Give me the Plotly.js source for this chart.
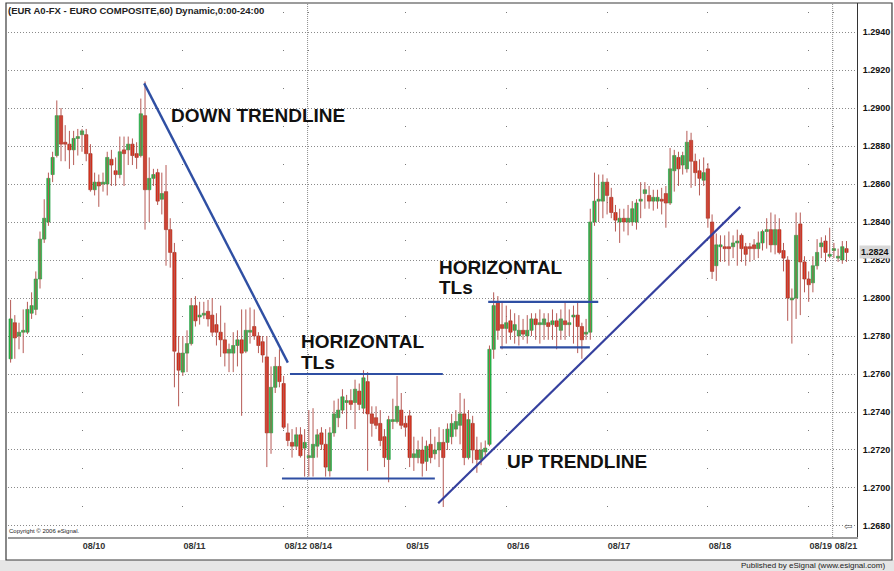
<!DOCTYPE html>
<html><head><meta charset="utf-8">
<script src="https://cdn.plot.ly/plotly-3.0.1.min.js"></script>
<style>html,body{margin:0;padding:0;background:#fff}#chart{width:894px;height:571px}</style>
</head><body><div id="chart"></div>
<script>
const chartTitle = '(EUR A0-FX - EURO COMPOSITE,60) Dynamic,0:00-24:00';
const dayLabels = ['08/10','08/11','08/12','08/14','08/15','08/16','08/17','08/18','08/19','08/21'];
const dayStartIdx = [17,41,65,71,94,118,142,166,190,196];
const weekStartLabels = ['08/14','08/21'];

const openPx = [
1.2768,1.2787,1.2780,1.2782,1.2782,1.2792,1.2794,1.2810,1.2831,1.2840,
1.2865,1.2875,1.2896,1.2882,1.2881,1.2878,1.2884,1.2886,1.2886,1.2876,
1.2857,1.2861,1.2860,1.2860,1.2873,1.2867,1.2865,1.2878,1.2878,1.2881,
1.2876,1.2875,1.2896,1.2857,1.2863,1.2866,1.2852,1.2856,1.2836,1.2824,
1.2771,1.2761,1.2771,1.2776,1.2796,1.2790,1.2791,1.2793,1.2791,1.2786,
1.2782,1.2778,1.2771,1.2771,1.2775,1.2778,1.2772,1.2782,1.2785,1.2780,
1.2777,1.2769,1.2729,1.2753,1.2764,1.2755,1.2729,1.2724,1.2722,1.2728,
1.2721,1.2716,1.2716,1.2722,1.2729,1.2723,1.2709,1.2729,1.2737,1.2741,
1.2745,1.2746,1.2745,1.2751,1.2742,1.2756,1.2739,1.2737,1.2734,1.2727,
1.2715,1.2735,1.2735,1.2741,1.2734,1.2738,1.2716,1.2716,1.2720,1.2714,
1.2723,1.2718,1.2720,1.2724,1.2724,1.2727,1.2731,1.2733,1.2739,1.2716,
1.2734,1.2720,1.2715,1.2719,1.2723,1.2773,1.2798,1.2786,1.2784,1.2788,
1.2783,1.2780,1.2783,1.2780,1.2783,1.2789,1.2786,1.2786,1.2787,1.2786,
1.2788,1.2783,1.2788,1.2786,1.2790,1.2791,1.2785,1.2781,1.2782,1.2840,
1.2851,1.2851,1.2861,1.2853,1.2845,1.2840,1.2842,1.2840,1.2840,1.2840,
1.2851,1.2855,1.2854,1.2851,1.2851,1.2852,1.2855,1.2850,1.2867,1.2874,
1.2870,1.2868,1.2883,1.2872,1.2867,1.2862,1.2868,1.2840,1.2817,1.2827,
1.2827,1.2827,1.2827,1.2829,1.2833,1.2827,1.2827,1.2828,1.2826,1.2829,
1.2835,1.2836,1.2828,1.2836,1.2825,1.2820,1.2799,1.2800,1.2839,1.2819,
1.2810,1.2808,1.2817,1.2827,1.2830,1.2822,1.2825,1.2821,1.2820,1.2826];
const highPx = [
1.2799,1.2791,1.2787,1.2794,1.2798,1.2803,1.2814,1.2835,1.2852,1.2866,
1.2877,1.2904,1.2900,1.2891,1.2888,1.2888,1.2889,1.2889,1.2889,1.2881,
1.2866,1.2865,1.2866,1.2877,1.2878,1.2874,1.2885,1.2885,1.2885,1.2884,
1.2882,1.2905,1.2914,1.2874,1.2868,1.2868,1.2866,1.2870,1.2842,1.2829,
1.2780,1.2780,1.2783,1.2800,1.2801,1.2798,1.2798,1.2799,1.2800,1.2792,
1.2796,1.2787,1.2776,1.2782,1.2783,1.2794,1.2794,1.2795,1.2794,1.2782,
1.2780,1.2780,1.2764,1.2769,1.2773,1.2759,1.2734,1.2731,1.2732,1.2732,
1.2731,1.2741,1.2742,1.2731,1.2732,1.2731,1.2732,1.2746,1.2747,1.2752,
1.2749,1.2752,1.2757,1.2755,1.2762,1.2761,1.2743,1.2743,1.2741,1.2731,
1.2738,1.2747,1.2759,1.2750,1.2738,1.2741,1.2727,1.2725,1.2727,1.2725,
1.2731,1.2727,1.2732,1.2731,1.2734,1.2739,1.2741,1.2750,1.2747,1.2741,
1.2738,1.2727,1.2724,1.2725,1.2775,1.2803,1.2801,1.2798,1.2796,1.2794,
1.2792,1.2791,1.2789,1.2791,1.2792,1.2792,1.2794,1.2792,1.2792,1.2794,
1.2792,1.2794,1.2798,1.2794,1.2796,1.2798,1.2787,1.2789,1.2847,1.2866,
1.2865,1.2865,1.2863,1.2858,1.2849,1.2847,1.2847,1.2849,1.2851,1.2852,
1.2861,1.2861,1.2859,1.2857,1.2857,1.2858,1.2859,1.2879,1.2878,1.2877,
1.2877,1.2888,1.2887,1.2876,1.2873,1.2874,1.2871,1.2844,1.2834,1.2833,
1.2833,1.2835,1.2833,1.2836,1.2834,1.2829,1.2829,1.2831,1.2835,1.2836,
1.2842,1.2845,1.2844,1.2842,1.2829,1.2822,1.2805,1.2845,1.2845,1.2822,
1.2814,1.2822,1.2831,1.2832,1.2833,1.2837,1.2829,1.2826,1.2830,1.2830];
const lowPx = [
1.2766,1.2768,1.2773,1.2771,1.2781,1.2789,1.2791,1.2805,1.2829,1.2838,
1.2861,1.2874,1.2872,1.2872,1.2868,1.2870,1.2875,1.2877,1.2872,1.2856,
1.2854,1.2848,1.2856,1.2854,1.2859,1.2859,1.2863,1.2859,1.2870,1.2870,
1.2868,1.2874,1.2836,1.2840,1.2859,1.2849,1.2844,1.2817,1.2816,1.2753,
1.2743,1.2759,1.2761,1.2775,1.2785,1.2786,1.2789,1.2785,1.2780,1.2775,
1.2769,1.2764,1.2761,1.2761,1.2764,1.2738,1.2771,1.2776,1.2778,1.2771,
1.2766,1.2711,1.2718,1.2750,1.2753,1.2731,1.2722,1.2716,1.2720,1.2716,
1.2706,1.2706,1.2706,1.2716,1.2720,1.2706,1.2706,1.2727,1.2732,1.2739,
1.2731,1.2741,1.2731,1.2741,1.2739,1.2709,1.2727,1.2731,1.2722,1.2711,
1.2703,1.2731,1.2734,1.2731,1.2727,1.2711,1.2709,1.2713,1.2706,1.2709,
1.2713,1.2715,1.2711,1.2690,1.2720,1.2723,1.2727,1.2723,1.2712,1.2715,
1.2713,1.2708,1.2712,1.2716,1.2722,1.2768,1.2778,1.2773,1.2776,1.2778,
1.2776,1.2775,1.2778,1.2776,1.2780,1.2778,1.2776,1.2778,1.2778,1.2778,
1.2773,1.2778,1.2778,1.2780,1.2776,1.2771,1.2768,1.2778,1.2778,1.2838,
1.2840,1.2842,1.2844,1.2842,1.2835,1.2829,1.2835,1.2833,1.2838,1.2836,
1.2842,1.2847,1.2847,1.2846,1.2847,1.2844,1.2837,1.2849,1.2856,1.2859,
1.2865,1.2866,1.2858,1.2859,1.2854,1.2859,1.2837,1.2810,1.2809,1.2819,
1.2819,1.2817,1.2821,1.2817,1.2819,1.2817,1.2819,1.2820,1.2821,1.2825,
1.2826,1.2824,1.2823,1.2823,1.2814,1.2788,1.2776,1.2789,1.2791,1.2803,
1.2798,1.2803,1.2815,1.2821,1.2819,1.2821,1.2821,1.2819,1.2818,1.2819];
const closePx = [
1.2789,1.2779,1.2782,1.2783,1.2794,1.2796,1.2810,1.2831,1.2842,1.2863,
1.2874,1.2896,1.2881,1.2881,1.2878,1.2884,1.2885,1.2888,1.2876,1.2857,
1.2861,1.2859,1.2861,1.2874,1.2870,1.2865,1.2877,1.2876,1.2881,1.2875,
1.2874,1.2897,1.2857,1.2863,1.2865,1.2851,1.2855,1.2836,1.2824,1.2772,
1.2762,1.2771,1.2776,1.2796,1.2788,1.2791,1.2792,1.2789,1.2782,1.2782,
1.2778,1.2771,1.2773,1.2775,1.2778,1.2771,1.2783,1.2783,1.2780,1.2775,
1.2770,1.2729,1.2753,1.2764,1.2756,1.2732,1.2725,1.2722,1.2728,1.2717,
1.2724,1.2717,1.2723,1.2728,1.2723,1.2711,1.2729,1.2739,1.2741,1.2748,
1.2746,1.2744,1.2752,1.2744,1.2758,1.2739,1.2734,1.2733,1.2725,1.2716,
1.2736,1.2736,1.2743,1.2733,1.2732,1.2716,1.2718,1.2720,1.2713,1.2722,
1.2716,1.2720,1.2724,1.2716,1.2731,1.2734,1.2735,1.2739,1.2716,1.2736,
1.2720,1.2715,1.2720,1.2721,1.2773,1.2796,1.2783,1.2784,1.2787,1.2782,
1.2786,1.2783,1.2781,1.2783,1.2789,1.2786,1.2787,1.2789,1.2785,1.2788,
1.2785,1.2789,1.2786,1.2787,1.2791,1.2785,1.2778,1.2782,1.2840,1.2851,
1.2852,1.2861,1.2854,1.2845,1.2841,1.2842,1.2840,1.2842,1.2847,1.2850,
1.2852,1.2857,1.2851,1.2853,1.2853,1.2851,1.2850,1.2868,1.2875,1.2868,
1.2875,1.2882,1.2872,1.2866,1.2863,1.2866,1.2842,1.2814,1.2828,1.2828,
1.2826,1.2826,1.2829,1.2830,1.2826,1.2823,1.2826,1.2826,1.2829,1.2835,
1.2836,1.2828,1.2836,1.2824,1.2821,1.2800,1.2800,1.2833,1.2819,1.2810,
1.2807,1.2817,1.2824,1.2829,1.2824,1.2823,1.2826,1.2822,1.2827,1.2824];

// analyst trendlines (bar index, price)
const downTrendX = [31.8, 66.0];
const downTrendY = [1.2913, 1.2766];
const upTrendX = [101.8, 173.7];
const upTrendY = [1.2692, 1.2848];
const hLineStart = [66.5, 64.6, 113.7, 116.5];
const hLineEnd   = [102.9, 101.0, 139.9, 137.9];
const hLineLevel = [1.2760, 1.2705, 1.2798, 1.2774];

const FONT = 'Liberation Sans, Arial, Helvetica, sans-serif';
const n = closePx.length;
const idx = openPx.map((_, i) => i);

// wicks
const wx = [], wy = [];
for (let i = 0; i < n; i++) { wx.push(i, i, null); wy.push(lowPx[i], highPx[i], null); }

const upI = idx.filter(i => closePx[i] >= openPx[i]);
const dnI = idx.filter(i => closePx[i] < openPx[i]);
const minBody = 0.00004;
function bodyTrace(ids, fill, edge) {
  return {
    type: 'bar', x: ids,
    base: ids.map(i => Math.min(openPx[i], closePx[i])),
    y: ids.map(i => Math.max(Math.abs(closePx[i] - openPx[i]), minBody)),
    width: 0.78,
    marker: {color: fill, line: {color: edge, width: 0.6}},
    hoverinfo: 'skip'
  };
}

const traces = [
  {type: 'scatter', mode: 'lines', x: wx, y: wy, line: {color: '#b65a55', width: 1}, hoverinfo: 'skip', connectgaps: false},
  bodyTrace(upI, '#27b84a', '#1f9a3c'),
  bodyTrace(dnI, '#e2301c', '#9a2a18')
];

const shapes = [];
// bottom gray strip and frame
shapes.push({type: 'rect', xref: 'paper', yref: 'paper', x0: -0.01, x1: 1.05, y0: -0.07, y1: -0.0431,
  fillcolor: '#e6e6e6', line: {width: 0}, layer: 'below'});
shapes.push({type: 'rect', xref: 'paper', yref: 'paper', x0: -0.00236, x1: 1.0412, y0: -0.0431, y1: 1.0,
  fillcolor: 'rgba(0,0,0,0)', line: {color: '#3a3a3a', width: 1.2}});
// week separators
weekStartLabels.forEach(lbl => {
  const xi = dayStartIdx[dayLabels.indexOf(lbl)] - 0.3;
  shapes.push({type: 'line', xref: 'x', yref: 'paper', x0: xi, x1: xi, y0: 0, y1: 1,
    line: {color: '#8c8c8c', width: 1, dash: '1px,1px'}, layer: 'below'});
});
// trendlines
shapes.push({type: 'line', xref: 'x', yref: 'y', x0: downTrendX[0], x1: downTrendX[1], y0: downTrendY[0], y1: downTrendY[1],
  line: {color: '#2f4fa3', width: 2.4}});
shapes.push({type: 'line', xref: 'x', yref: 'y', x0: upTrendX[0], x1: upTrendX[1], y0: upTrendY[0], y1: upTrendY[1],
  line: {color: '#35409e', width: 2.2}});
for (let k = 0; k < hLineLevel.length; k++) {
  shapes.push({type: 'line', xref: 'x', yref: 'y', x0: hLineStart[k], x1: hLineEnd[k], y0: hLineLevel[k], y1: hLineLevel[k],
    line: {color: '#2f4fa3', width: 2.2}});
}

const big = {family: FONT, size: 19, color: '#111', weight: 700};
function ann(text, x, y, font, extra) {
  return Object.assign({text: text, xref: 'paper', yref: 'paper', x: x, y: y, xanchor: 'left', yanchor: 'middle',
    showarrow: false, font: font, borderpad: 0}, extra || {});
}
const annotations = [
  ann(chartTitle, -0.001, 0.986, {family: FONT, size: 9.5, color: '#222', weight: 700}),
  ann('Copyright © 2006 eSignal.', 0.0, 0.0112, {family: FONT, size: 6, color: '#222'}),
  ann('Published by eSignal (www.esignal.com)', 1.0342, -0.0543, {family: FONT, size: 8, color: '#222'}, {xanchor: 'right'}),
  ann('DOWN TRENDLINE', 0.1908, 0.7893, big),
  ann('HORIZONTAL', 0.3439, 0.3670, big),
  ann('TLs', 0.3439, 0.3277, big),
  ann('HORIZONTAL', 0.5065, 0.5056, big),
  ann('TLs', 0.5065, 0.4663, big),
  ann('UP TRENDLINE', 0.5866, 0.1414, big),
  ann('⇦', 0.984, 0.019, {family: 'DejaVu Sans', size: 10, color: '#555'}),
  {text: closePx[n - 1].toFixed(4), xref: 'paper', yref: 'y', x: 1, y: closePx[n - 1], xanchor: 'left', yanchor: 'middle',
   xshift: 2, showarrow: false, bgcolor: '#d8d8d8', borderpad: 1,
   font: {family: FONT, size: 9, color: '#111', weight: 700}}
];

const layout = {
  width: 894, height: 571,
  margin: {l: 8, r: 37, t: 3, b: 34, pad: 0},
  paper_bgcolor: '#ffffff', plot_bgcolor: '#ffffff',
  showlegend: false, barmode: 'overlay', bargap: 0,
  xaxis: {
    range: [-0.62, 201.5], tickvals: dayStartIdx, ticktext: dayLabels,
    ticklabelposition: 'outside right', ticks: '', tickangle: 0,
    showgrid: true, gridcolor: '#7a7a7a', gridwidth: 1, griddash: '0px,9px,1px,28px',
    zeroline: false, showline: true, linecolor: '#9a9a9a', linewidth: 1.5,
    tickfont: {family: FONT, size: 9, color: '#333', weight: 700}, fixedrange: true
  },
  yaxis: {
    side: 'right', range: [1.26742, 1.29553], tick0: 1.2680, dtick: 0.002, tickformat: '.4f',
    showgrid: true, gridcolor: '#8a8a8a', gridwidth: 1, griddash: '1px,2px',
    zeroline: false, showline: true, linecolor: '#333', linewidth: 1, ticks: '',
    ticklabelstandoff: 3,
    tickfont: {family: FONT, size: 9, color: '#111', weight: 700}, fixedrange: true
  },
  shapes: shapes,
  annotations: annotations
};

Plotly.newPlot('chart', traces, layout, {displayModeBar: false, staticPlot: true});
</script>
</body></html>
